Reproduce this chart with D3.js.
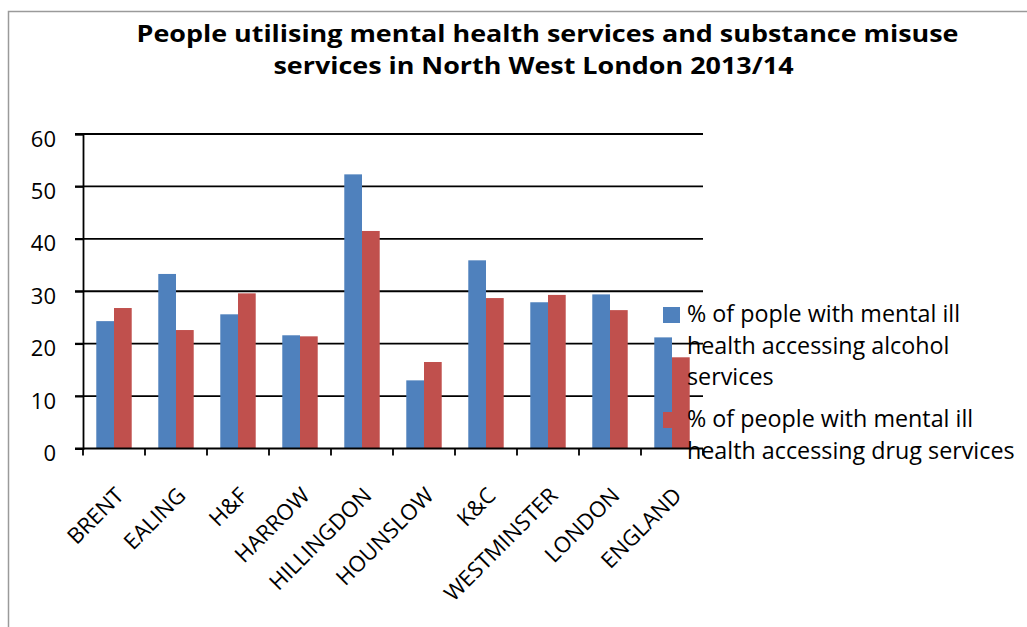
<!DOCTYPE html>
<html>
<head>
<meta charset="utf-8">
<script src="https://cdn.jsdelivr.net/npm/d3@7"></script>
<style>
  html, body { margin: 0; padding: 0; background: #fff; }
  svg { display: block; }
  text { font-family: "Open Sans", Lato, sans-serif; fill: #000; }
</style>
</head>
<body>
<svg id="chart" width="1027" height="627"></svg>
<script>
// Areas shown along the x axis
const areas = ["BRENT", "EALING", "H&F", "HARROW", "HILLINGDON", "HOUNSLOW", "K&C", "WESTMINSTER", "LONDON", "ENGLAND"];

// % of people with mental ill health accessing alcohol services
const alcoholPct = [24.3, 33.3, 25.6, 21.6, 52.3, 13.0, 35.9, 27.9, 29.4, 21.2];

// % of people with mental ill health accessing drug services
const drugPct = [26.8, 22.6, 29.6, 21.4, 41.5, 16.5, 28.7, 29.3, 26.4, 17.4];

const yTicks = [0, 10, 20, 30, 40, 50, 60];

const titleLines = [
  "People utilising mental health services and substance misuse",
  "services in North West London 2013/14"
];

const seriesNames = [
  ["% of pople with mental ill", "health accessing alcohol", "services"],
  ["% of people with mental ill", "health accessing drug services"]
];
const seriesColors = ["#4F81BD", "#C0504D"];

const svg = d3.select("#chart");

// chart frame (runs off the right and bottom edges)
svg.append("rect")
  .attr("x", 8.5).attr("y", 11.5)
  .attr("width", 1040).attr("height", 640)
  .attr("fill", "#fff")
  .attr("stroke", "#9a9a9a")
  .attr("stroke-width", 1.5);

// title, one centred line per entry, slightly widened
const titleCentres = [547.5, 533.5];
svg.append("g")
  .selectAll("text")
  .data(titleLines)
  .join("text")
  .attr("transform", (d, i) => `translate(${titleCentres[i]},${42 + i * 32}) scale(1.17,1)`)
  .attr("text-anchor", "middle")
  .style("font-weight", "bold")
  .style("font-size", "23px")
  .text(d => d);

const plot = { left: 83, right: 703, top: 134, bottom: 448.5 };

const x = d3.scaleBand().domain(areas).range([plot.left, plot.right]).padding(0);
const y = d3.scaleLinear().domain([0, 60]).range([plot.bottom, plot.top]);

const barW = x.bandwidth() / 3.5;
const groupOffset = (x.bandwidth() - 2 * barW) / 2;

// horizontal gridlines
svg.append("g")
  .selectAll("line")
  .data(yTicks.filter(t => t > 0))
  .join("line")
  .attr("x1", plot.left - 8).attr("x2", plot.right)
  .attr("y1", d => y(d)).attr("y2", d => y(d))
  .attr("stroke", "#000")
  .attr("stroke-width", 1.8);

// bars
const rows = areas.map((a, i) => ({ area: a, values: [alcoholPct[i], drugPct[i]] }));
const groups = svg.append("g")
  .selectAll("g")
  .data(rows)
  .join("g")
  .attr("transform", d => `translate(${x(d.area) + groupOffset},0)`);

groups.selectAll("rect")
  .data(d => d.values)
  .join("rect")
  .attr("x", (d, i) => i * barW)
  .attr("width", barW)
  .attr("y", d => y(d))
  .attr("height", d => y(0) - y(d))
  .attr("fill", (d, i) => seriesColors[i]);

// y axis
const yAxis = d3.axisLeft(y).tickValues(yTicks).tickSize(8).tickPadding(19);
const gy = svg.append("g")
  .attr("transform", `translate(${plot.left},0)`)
  .call(yAxis);
gy.select(".domain").attr("stroke", "#000").attr("stroke-width", 1.8);
gy.selectAll(".tick line").attr("stroke", "#000").attr("stroke-width", 1.8);
gy.selectAll(".tick text")
  .style("font-size", "22px")
  .style("font-family", "'Open Sans', Lato, sans-serif")
  .attr("dy", "0.55em");

// x axis: ticks on category boundaries
const boundaries = areas.map(a => x(a)).concat([plot.right]);
const gx = svg.append("g");
gx.append("line")
  .attr("x1", plot.left - 8).attr("x2", plot.right)
  .attr("y1", y(0)).attr("y2", y(0))
  .attr("stroke", "#000").attr("stroke-width", 2);
gx.selectAll("line.tk")
  .data(boundaries)
  .join("line")
  .attr("class", "tk")
  .attr("x1", d => d).attr("x2", d => d)
  .attr("y1", y(0)).attr("y2", y(0) + 7)
  .attr("stroke", "#000").attr("stroke-width", 1.8);

// rotated category labels
gx.selectAll("text")
  .data(areas)
  .join("text")
  .attr("text-anchor", "end")
  .style("font-size", "22px")
  .attr("transform", d => `translate(${x(d) + x.bandwidth() / 2 + 11},${y(0) + 48.5}) rotate(-45)`)
  .text(d => d);

// legend
const legend = svg.append("g");
const legendTop = [307, 412];
seriesNames.forEach((lines, s) => {
  legend.append("rect")
    .attr("x", 663).attr("y", legendTop[s])
    .attr("width", 17).attr("height", 16)
    .attr("fill", seriesColors[s]);
  legend.append("text")
    .style("font-size", "23.3px")
    .selectAll("tspan")
    .data(lines)
    .join("tspan")
    .attr("x", 687)
    .attr("y", (d, i) => legendTop[s] + 15 + i * 31.5)
    .text(d => d);
});
</script>
</body>
</html>
